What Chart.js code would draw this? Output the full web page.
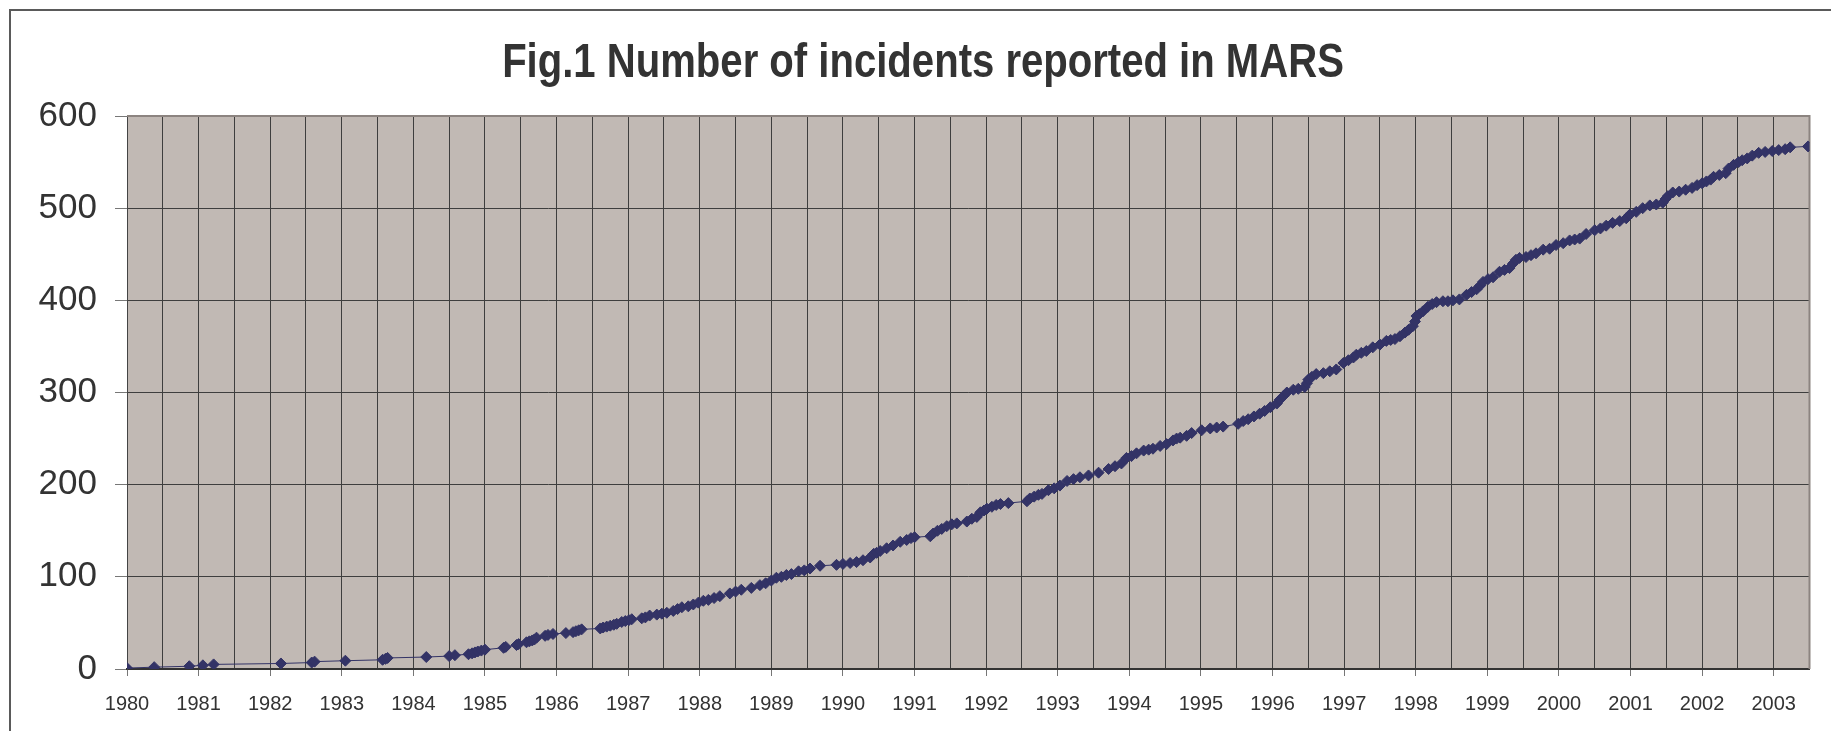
<!DOCTYPE html>
<html>
<head>
<meta charset="utf-8">
<title>Number of incidents reported in MARS</title>
<script src="https://cdn.jsdelivr.net/npm/chart.js@4.4.1/dist/chart.umd.min.js"></script>
<style>
  html, body { margin: 0; padding: 0; background: #fff; overflow: hidden; }
  #wrap { width: 1831px; height: 731px; }
</style>
</head>
<body>
<div id="wrap"><canvas id="marsChart" width="1831" height="731"></canvas></div>
<script>
// Incident dates (decimal year) and cumulative count
const incidentYears = [
    1980.00, 1980.38, 1980.87, 1981.06, 1981.21, 1982.15, 1982.58, 1982.62, 1983.05, 1983.57,
    1983.61, 1983.64, 1984.18, 1984.50, 1984.58, 1984.77, 1984.82, 1984.86, 1984.90, 1984.95,
    1985.00, 1985.26, 1985.29, 1985.44, 1985.47, 1985.58, 1985.62, 1985.66, 1985.69, 1985.72,
    1985.84, 1985.88, 1985.95, 1986.13, 1986.23, 1986.27, 1986.31, 1986.35, 1986.61, 1986.65,
    1986.70, 1986.75, 1986.80, 1986.84, 1986.91, 1986.96, 1987.01, 1987.05, 1987.19, 1987.24,
    1987.30, 1987.40, 1987.47, 1987.54, 1987.63, 1987.69, 1987.75, 1987.84, 1987.91, 1987.98,
    1988.05, 1988.12, 1988.20, 1988.28, 1988.42, 1988.50, 1988.58, 1988.72, 1988.84, 1988.92,
    1989.00, 1989.07, 1989.14, 1989.21, 1989.28, 1989.38, 1989.46, 1989.54, 1989.68, 1989.91,
    1990.00, 1990.10, 1990.19, 1990.28, 1990.38, 1990.43, 1990.47, 1990.52, 1990.61, 1990.70,
    1990.80, 1990.89, 1990.95, 1991.00, 1991.22, 1991.26, 1991.32, 1991.38, 1991.45, 1991.52,
    1991.59, 1991.73, 1991.80, 1991.87, 1991.92, 1991.97, 1992.01, 1992.08, 1992.14, 1992.20,
    1992.31, 1992.57, 1992.61, 1992.67, 1992.73, 1992.78, 1992.87, 1992.95, 1993.03, 1993.13,
    1993.22, 1993.31, 1993.43, 1993.57, 1993.71, 1993.80, 1993.89, 1993.96, 1994.03, 1994.10,
    1994.20, 1994.27, 1994.33, 1994.43, 1994.52, 1994.61, 1994.66, 1994.71, 1994.80, 1994.87,
    1995.01, 1995.13, 1995.22, 1995.31, 1995.52, 1995.59, 1995.66, 1995.74, 1995.82, 1995.89,
    1995.97, 1996.06, 1996.10, 1996.15, 1996.20, 1996.29, 1996.36, 1996.45, 1996.48, 1996.50,
    1996.55, 1996.61, 1996.71, 1996.80, 1996.89, 1996.99, 1997.06, 1997.13, 1997.17, 1997.24,
    1997.31, 1997.40, 1997.50, 1997.59, 1997.65, 1997.71, 1997.78, 1997.85, 1997.90, 1997.96,
    1997.99, 1998.01, 1998.05, 1998.10, 1998.17, 1998.23, 1998.29, 1998.38, 1998.45, 1998.52,
    1998.61, 1998.71, 1998.78, 1998.85, 1998.90, 1998.94, 1999.01, 1999.08, 1999.17, 1999.24,
    1999.31, 1999.36, 1999.40, 1999.45, 1999.54, 1999.61, 1999.68, 1999.78, 1999.87, 1999.96,
    2000.06, 2000.15, 2000.22, 2000.29, 2000.38, 2000.50, 2000.58, 2000.66, 2000.75, 2000.85,
    2000.94, 2000.99, 2001.08, 2001.17, 2001.27, 2001.36, 2001.45, 2001.49, 2001.52, 2001.59,
    2001.68, 2001.77, 2001.86, 2001.93, 2002.00, 2002.06, 2002.12, 2002.16, 2002.24, 2002.33,
    2002.37, 2002.44, 2002.51, 2002.56, 2002.63, 2002.70, 2002.79, 2002.88, 2002.98, 2003.07,
    2003.16, 2003.23, 2003.48
];
const incidentCounts = [
      1,   2,   3,   4,   5,   6,   7,   8,   9,  10,
     11,  12,  13,  14,  15,  16,  17,  18,  19,  20,
     21,  23,  24,  26,  27,  29,  30,  31,  32,  34,
     36,  37,  38,  39,  40,  41,  42,  43,  44,  45,
     46,  47,  48,  49,  51,  52,  53,  54,  55,  56,
     58,  59,  60,  61,  63,  65,  67,  68,  70,  72,
     74,  75,  77,  79,  82,  84,  86,  88,  91,  93,
     96,  99, 100, 102, 103, 106, 107, 109, 112, 113,
    114, 115, 116, 118, 121, 125, 126, 128, 131, 134,
    138, 140, 142, 143, 144, 147, 150, 152, 155, 157,
    158, 160, 163, 165, 170, 172, 174, 176, 178, 179,
    180, 182, 185, 187, 189, 190, 194, 196, 199, 204,
    206, 208, 210, 213, 217, 220, 223, 229, 231, 234,
    237, 238, 239, 242, 244, 248, 250, 251, 253, 256,
    259, 261, 262, 263, 266, 269, 271, 274, 277, 280,
    284, 288, 292, 296, 300, 303, 304, 306, 310, 314,
    317, 320, 321, 323, 325, 332, 335, 338, 341, 343,
    345, 349, 352, 356, 357, 358, 361, 365, 368, 372,
    377, 383, 385, 388, 393, 396, 398, 399, 399, 400,
    401, 406, 409, 412, 416, 420, 423, 425, 431, 433,
    435, 440, 444, 446, 447, 449, 451, 455, 456, 460,
    462, 465, 466, 467, 472, 476, 478, 481, 484, 486,
    489, 493, 496, 500, 503, 504, 506, 510, 513, 517,
    518, 520, 522, 525, 527, 529, 531, 534, 536, 538,
    543, 547, 550, 552, 554, 557, 560, 561, 562, 563,
    564, 566, 567
];

// Axis tick labels
const yearLabels = [
    '1980', '1981', '1982', '1983', '1984', '1985', '1986', '1987', '1988', '1989', '1990', '1991',
    '1992', '1993', '1994', '1995', '1996', '1997', '1998', '1999', '2000', '2001', '2002', '2003'
];
const countTicks = [0, 100, 200, 300, 400, 500, 600];
const chartTitle = 'Fig.1 Number of incidents reported in MARS';

const points = incidentYears.map((yr, i) => ({ x: yr, y: incidentCounts[i] }));

// Plot area fill, plot border, outer frame and the (condensed) title
const framePlugin = {
    id: 'frame',
    beforeDraw(c) {
        const ctx = c.ctx;
        const a = c.chartArea;
        ctx.save();
        ctx.fillStyle = '#fff';
        ctx.fillRect(0, 0, c.width, c.height);
        ctx.strokeStyle = '#5a5a5a';
        ctx.lineWidth = 2;
        ctx.beginPath();
        ctx.moveTo(10, c.height);
        ctx.lineTo(10, 10);
        ctx.lineTo(c.width, 10);
        ctx.stroke();
        ctx.fillStyle = '#c1b9b4';
        ctx.fillRect(a.left, a.top, a.right - a.left, a.bottom - a.top);
        ctx.restore();
    },
    beforeDatasetsDraw(c) {
        const ctx = c.ctx;
        const a = c.chartArea;
        ctx.save();
        ctx.strokeStyle = '#8c8480';
        ctx.lineWidth = 2;
        ctx.beginPath();
        ctx.moveTo(a.left, a.top);
        ctx.lineTo(a.right, a.top);
        ctx.lineTo(a.right, a.bottom);
        ctx.stroke();
        ctx.restore();
    },
    afterDraw(c) {
        // narrow bold title, like Arial Narrow in the original
        const ctx = c.ctx;
        ctx.save();
        ctx.translate(923, 77);
        ctx.scale(0.835, 1);
        ctx.font = "bold 48px 'Liberation Sans', Arial, sans-serif";
        ctx.fillStyle = '#333';
        ctx.textAlign = 'center';
        ctx.textBaseline = 'alphabetic';
        ctx.fillText(chartTitle, 0, 0);
        ctx.restore();
    }
};

const ctx = document.getElementById('marsChart').getContext('2d');
const chart = new Chart(ctx, {
    type: 'line',
    data: {
        datasets: [{
            label: 'Incidents',
            data: points,
            borderColor: '#333366',
            borderWidth: 1,
            backgroundColor: '#333366',
            pointStyle: 'rectRot',
            pointRadius: 5.5,
            pointBorderWidth: 1,
            pointBorderColor: '#333366',
            pointBackgroundColor: '#333366',
            tension: 0
        }]
    },
    options: {
        responsive: false,
        animation: false,
        devicePixelRatio: 1,
        layout: { padding: { left: 10, right: 21.5, top: 116, bottom: 0 } },
        plugins: {
            legend: { display: false },
            tooltip: { enabled: false },
            title: { display: false }
        },
        scales: {
            x: {
                type: 'linear',
                min: 1980,
                max: 2003.5,
                afterFit: (scale) => { scale.height = 62; },
                ticks: {
                    stepSize: 0.5,
                    autoSkip: false,
                    maxRotation: 0,
                    minRotation: 0,
                    padding: 16,
                    color: '#333',
                    font: { family: "'Liberation Sans', Arial, sans-serif", size: 20 },
                    callback: (v) => {
                        const idx = yearLabels.indexOf(String(v));
                        return idx >= 0 ? yearLabels[idx] : '';
                    }
                },
                grid: {
                    color: '#3e3e3e',
                    lineWidth: 1,
                    tickLength: 7,
                    tickColor: (c) => Number.isInteger(c.tick && c.tick.value) ? '#777' : 'rgba(0,0,0,0)'
                },
                border: { display: true, color: '#333', width: 2 }
            },
            y: {
                min: 0,
                max: 600,
                afterFit: (scale) => { scale.width = 117; },
                afterBuildTicks: (scale) => { scale.ticks = countTicks.map(v => ({ value: v })); },
                ticks: {
                    padding: 18,
                    color: '#333',
                    font: { family: "'Liberation Sans', Arial, sans-serif", size: 35 }
                },
                grid: {
                    color: '#3e3e3e',
                    lineWidth: 1,
                    tickLength: 12,
                    tickColor: '#777'
                },
                border: { display: true, color: '#444', width: 1 }
            }
        }
    },
    plugins: [framePlugin]
});
</script>
</body>
</html>
